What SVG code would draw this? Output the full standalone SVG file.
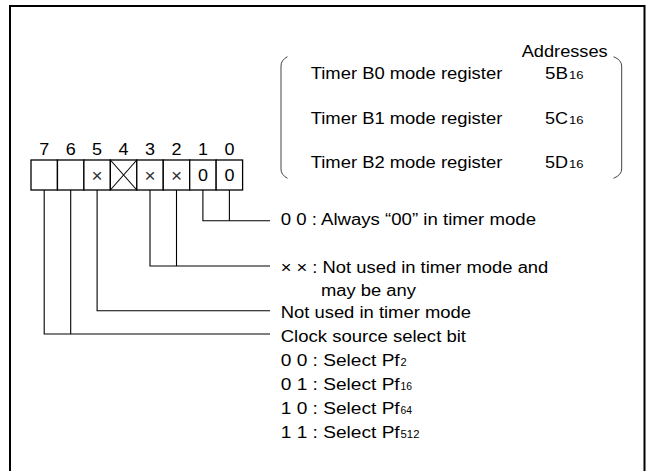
<svg xmlns="http://www.w3.org/2000/svg" width="648" height="471" viewBox="0 0 648 471">
<style>
  text { font-family: "Liberation Sans", Arial, sans-serif; fill: #000; }
  .t { font-size: 16px; }
  .s { font-size: 11px; }
  .d { font-size: 16px; text-anchor: middle; }
  .x { font-size: 19px; text-anchor: middle; fill: #333; }
  .cell { fill: #fff; stroke: #000; stroke-width: 1.3; }
  .ln { fill: none; stroke: #000; stroke-width: 1.1; }
  .br { fill: none; stroke: #444; stroke-width: 1; }
</style>
<rect x="0" y="0" width="648" height="471" fill="#fff"/>
<polyline points="10,471 10,6 644.5,6 644.5,471" fill="none" stroke="#000" stroke-width="2"/>

<g id="register">
  <g id="bit-numbers">
    <text class="d" x="44.2" y="155" textLength="10" lengthAdjust="spacingAndGlyphs">7</text>
    <text class="d" x="70.7" y="155" textLength="10" lengthAdjust="spacingAndGlyphs">6</text>
    <text class="d" x="97.1" y="155" textLength="10" lengthAdjust="spacingAndGlyphs">5</text>
    <text class="d" x="123.6" y="155" textLength="10" lengthAdjust="spacingAndGlyphs">4</text>
    <text class="d" x="150" y="155" textLength="10" lengthAdjust="spacingAndGlyphs">3</text>
    <text class="d" x="176.5" y="155" textLength="10" lengthAdjust="spacingAndGlyphs">2</text>
    <text class="d" x="202.9" y="155" textLength="10" lengthAdjust="spacingAndGlyphs">1</text>
    <text class="d" x="229.4" y="155" textLength="10" lengthAdjust="spacingAndGlyphs">0</text>
  </g>
  <g id="cells">
    <rect class="cell" x="31" y="160" width="26.45" height="30"/>
    <rect class="cell" x="57.45" y="160" width="26.45" height="30"/>
    <rect class="cell" x="83.9" y="160" width="26.45" height="30"/>
    <rect class="cell" x="110.35" y="160" width="26.45" height="30"/>
    <rect class="cell" x="136.8" y="160" width="26.45" height="30"/>
    <rect class="cell" x="163.25" y="160" width="26.45" height="30"/>
    <rect class="cell" x="189.7" y="160" width="26.45" height="30"/>
    <rect class="cell" x="216.15" y="160" width="26.45" height="30"/>
    <line class="ln" x1="110.35" y1="160" x2="136.8" y2="190"/>
    <line class="ln" x1="136.8" y1="160" x2="110.35" y2="190"/>
    <text class="x" x="97.1" y="181.5">×</text>
    <text class="x" x="150" y="181.5">×</text>
    <text class="x" x="176.5" y="181.5">×</text>
    <text class="d" x="202.9" y="180.7" textLength="10" lengthAdjust="spacingAndGlyphs">0</text>
    <text class="d" x="229.4" y="180.7" textLength="10" lengthAdjust="spacingAndGlyphs">0</text>
  </g>
</g>

<g id="addresses">
  <path class="br" d="M287.5,56.7 Q281,60 281,66 L281,169 Q281,175 287.5,178.3"/>
  <path class="br" d="M613.5,56.7 Q621.7,60 621.7,66 L621.7,169 Q621.7,175 613.5,178.3"/>
  <text class="t" x="521.7" y="56.7" textLength="86" lengthAdjust="spacingAndGlyphs">Addresses</text>
  <text class="t" x="310.7" y="79.3" textLength="191.6" lengthAdjust="spacingAndGlyphs">Timer B0 mode register</text>
  <text class="t" x="545" y="79.3" textLength="23" lengthAdjust="spacingAndGlyphs">5B</text>
  <text class="s" x="569" y="79.3" textLength="14.5" lengthAdjust="spacingAndGlyphs">16</text>
  <text class="t" x="310.7" y="124" textLength="191.6" lengthAdjust="spacingAndGlyphs">Timer B1 mode register</text>
  <text class="t" x="545" y="124" textLength="23" lengthAdjust="spacingAndGlyphs">5C</text>
  <text class="s" x="569" y="124" textLength="14.5" lengthAdjust="spacingAndGlyphs">16</text>
  <text class="t" x="310.7" y="167.7" textLength="191.6" lengthAdjust="spacingAndGlyphs">Timer B2 mode register</text>
  <text class="t" x="545" y="167.7" textLength="23" lengthAdjust="spacingAndGlyphs">5D</text>
  <text class="s" x="569" y="167.7" textLength="14.5" lengthAdjust="spacingAndGlyphs">16</text>
</g>

<g id="connectors">
  <polyline class="ln" points="202.9,190 202.9,220.7 270,220.7"/>
  <line class="ln" x1="229.4" y1="190" x2="229.4" y2="220.7"/>
  <polyline class="ln" points="150,190 150,266 270,266"/>
  <line class="ln" x1="176.5" y1="190" x2="176.5" y2="266"/>
  <polyline class="ln" points="97.1,190 97.1,310.7 270,310.7"/>
  <polyline class="ln" points="44.2,190 44.2,334 270,334"/>
  <line class="ln" x1="70.7" y1="190" x2="70.7" y2="334"/>
</g>

<g id="label-bits10">
  <text class="t" x="280.7" y="225" textLength="255.3" lengthAdjust="spacingAndGlyphs">0 0 : Always “00” in timer mode</text>
</g>
<g id="label-bits32">
  <text class="t" x="280.7" y="273" textLength="267.6" lengthAdjust="spacingAndGlyphs">× × : Not used in timer mode and</text>
  <text class="t" x="321" y="295.5" textLength="95" lengthAdjust="spacingAndGlyphs">may be any</text>
</g>
<g id="label-bit5">
  <text class="t" x="280.7" y="318.3" textLength="190.3" lengthAdjust="spacingAndGlyphs">Not used in timer mode</text>
</g>
<g id="label-bits76">
  <text class="t" x="280.7" y="342.3" textLength="185.3" lengthAdjust="spacingAndGlyphs">Clock source select bit</text>
  <text class="t" x="280.7" y="366" textLength="119" lengthAdjust="spacingAndGlyphs">0 0 : Select Pf</text>
  <text class="s" x="400.5" y="366">2</text>
  <text class="t" x="280.7" y="390" textLength="119" lengthAdjust="spacingAndGlyphs">0 1 : Select Pf</text>
  <text class="s" x="400.5" y="390" textLength="11.5" lengthAdjust="spacingAndGlyphs">16</text>
  <text class="t" x="280.7" y="414" textLength="119" lengthAdjust="spacingAndGlyphs">1 0 : Select Pf</text>
  <text class="s" x="400.5" y="414" textLength="11.5" lengthAdjust="spacingAndGlyphs">64</text>
  <text class="t" x="280.7" y="438.3" textLength="119" lengthAdjust="spacingAndGlyphs">1 1 : Select Pf</text>
  <text class="s" x="400.5" y="438.3" textLength="19" lengthAdjust="spacingAndGlyphs">512</text>
</g>
</svg>
